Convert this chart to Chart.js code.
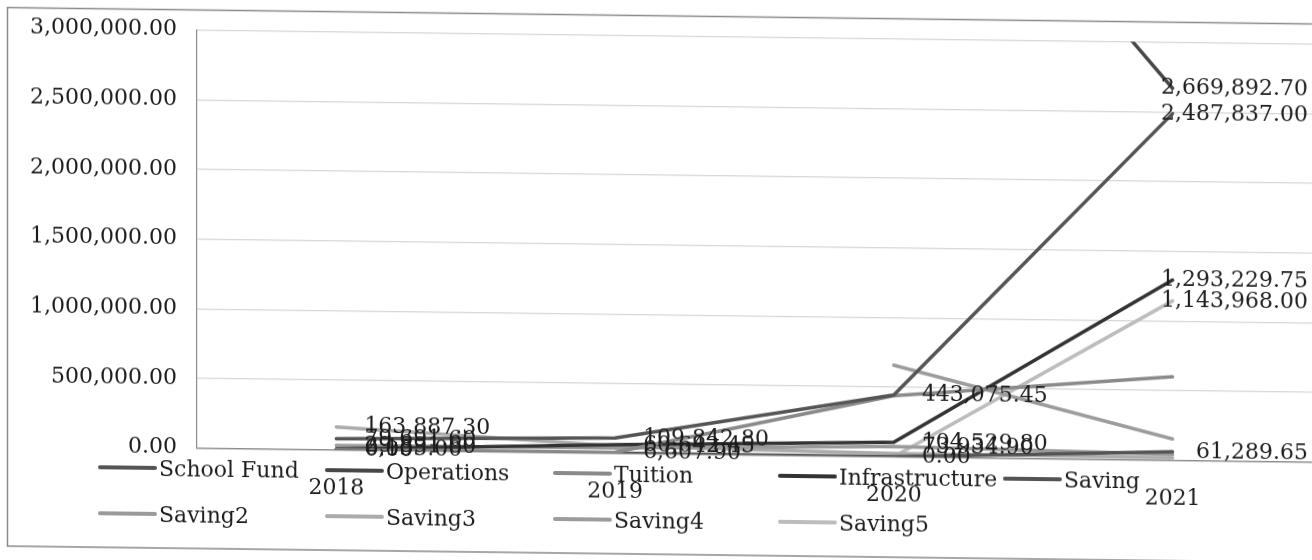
<!DOCTYPE html>
<html><head><meta charset="utf-8">
<script src="https://cdn.jsdelivr.net/npm/chart.js@4.4.1/dist/chart.umd.min.js"></script>
<style>
html,body{margin:0;padding:0;background:#fff;overflow:hidden;width:1312px;height:560px}
#wrap{position:absolute;left:0;top:0;width:1312px;height:560px;transform:skewY(0.72deg);transform-origin:0 0;background:#fff}
canvas{display:block}
</style></head><body>
<div id="wrap"><canvas id="c" width="1312" height="560"></canvas></div>
<script>
// ---- data ----
const categories = ['2018', '2019', '2020', '2021'];
const seriesNames = ['School Fund', 'Operations', 'Tuition', 'Infrastructure', 'Saving', 'Saving2', 'Saving3', 'Saving4', 'Saving5'];
const schoolFund     = [79691.60, 109842.80, 443075.45, 2487837.00];
const operations     = [3350000.00, 3720000.00, 4980000.00, 2669892.70];
const tuition        = [0.00, 6607.90, 438120.00, 598450.00];
const infrastructure = [6155.00, 60642.45, 104529.80, 1293229.75];
const saving         = [0.00, 0.00, 0.00, 61289.65];
const saving2        = [29891.60, 38150.00, 73934.90, 42300.00];
const saving3        = [163887.30, 52400.00, 23100.00, 18600.00];
const saving4        = [null, null, 657000.00, 152400.00];
const saving5        = [0.00, 0.00, 0.00, 1143968.00];
const yTickValues    = [0, 500000, 1000000, 1500000, 2000000, 2500000, 3000000];
// which points carry a value label (category indexes per series)
const labelledPoints = [[0,1,2,3], [3], [1], [0,1,2,3], [0,2,3], [0,2], [0], [], [3]];

const seriesValues = [schoolFund, operations, tuition, infrastructure, saving, saving2, saving3, saving4, saving5];
const seriesColors = ['#555555', '#474747', '#8a8a8a', '#333333', '#545454', '#9a9a9a', '#ababab', '#9c9c9c', '#bdbdbd'];

const FONT = '"DejaVu Serif", serif';
const TEXT = '#1c1c1c';
const fmt = v => Number(v).toLocaleString('en-US', {minimumFractionDigits: 2, maximumFractionDigits: 2});

const valueLabels = {
  id: 'valueLabels',
  afterDatasetsDraw(chart) {
    const ctx = chart.ctx, area = chart.chartArea;
    ctx.save();
    ctx.font = '22px ' + FONT;
    ctx.fillStyle = TEXT;
    ctx.textBaseline = 'middle';
    ctx.textAlign = 'left';
    labelledPoints.forEach((idxs, s) => {
      const meta = chart.getDatasetMeta(s);
      idxs.forEach(i => {
        const el = meta.data[i];
        const v = seriesValues[s][i];
        if (!el || v === null || el.y < area.top - 2) return;
        const txt = fmt(v);
        const w = ctx.measureText(txt).width;
        let x = el.x + 28;
        if (x + w > 1308) x = 1308 - w;
        ctx.fillText(txt, x, el.y);
      });
    });
    ctx.restore();
  }
};

const legendAndFrame = {
  id: 'legendAndFrame',
  afterDraw(chart) {
    const ctx = chart.ctx;
    ctx.save();
    // outer frame
    ctx.strokeStyle = '#8a8a8a';
    ctx.lineWidth = 1.5;
    ctx.strokeRect(7.5, 7.5, 1400, 538.5);
    // legend
    const colX = [100, 327, 555, 780, 1005];
    const rowY = [466, 512];
    ctx.font = '22px ' + FONT;
    ctx.textBaseline = 'middle';
    ctx.textAlign = 'left';
    seriesNames.forEach((name, k) => {
      const r = k < 5 ? 0 : 1;
      const c = k < 5 ? k : k - 5;
      const x = colX[c], y = rowY[r];
      ctx.strokeStyle = seriesColors[k];
      ctx.lineWidth = 4;
      ctx.lineCap = 'round';
      ctx.beginPath();
      ctx.moveTo(x, y);
      ctx.lineTo(x + 55, y);
      ctx.stroke();
      ctx.fillStyle = TEXT;
      ctx.fillText(name, x + 59, y + 2);
    });
    ctx.restore();
  }
};

new Chart(document.getElementById('c'), {
  type: 'line',
  data: {
    labels: categories,
    datasets: seriesNames.map((name, k) => ({
      label: name,
      data: seriesValues[k],
      borderColor: seriesColors[k],
      backgroundColor: seriesColors[k],
      borderWidth: 3.5,
      pointRadius: 0,
      pointHoverRadius: 0,
      tension: 0,
      spanGaps: false,
      borderCapStyle: 'round',
      borderJoinStyle: 'round'
    }))
  },
  options: {
    responsive: false,
    devicePixelRatio: 1,
    animation: false,
    events: [],
    layout: {padding: {top: 27.5, left: 0, right: 0, bottom: 0}},
    plugins: {legend: {display: false}, tooltip: {enabled: false}},
    scales: {
      x: {
        type: 'category',
        offset: true,
        grid: {display: false, drawTicks: false},
        border: {display: true, color: '#8c8c8c', width: 1.2},
        ticks: {font: {family: FONT, size: 22}, color: TEXT, padding: 26, maxRotation: 0, autoSkip: false},
        afterFit(s) { s.height = 114.5; s.paddingLeft = 0; s.paddingRight = 0; }
      },
      y: {
        min: 0,
        max: 3000000,
        afterBuildTicks(s) { s.ticks = yTickValues.map(v => ({value: v})); },
        grid: {color: ctx => ctx.tick && ctx.tick.value === 0 ? '#8c8c8c' : '#d6d6d6', lineWidth: 1.2, drawTicks: false},
        border: {display: true, color: '#8c8c8c', width: 1.2},
        ticks: {font: {family: FONT, size: 22}, color: TEXT, padding: 20, callback: v => fmt(v)},
        afterFit(s) { s.width = 197; s.paddingTop = 0; s.paddingBottom = 0; }
      }
    }
  },
  plugins: [valueLabels, legendAndFrame]
});
</script>
</body></html>
